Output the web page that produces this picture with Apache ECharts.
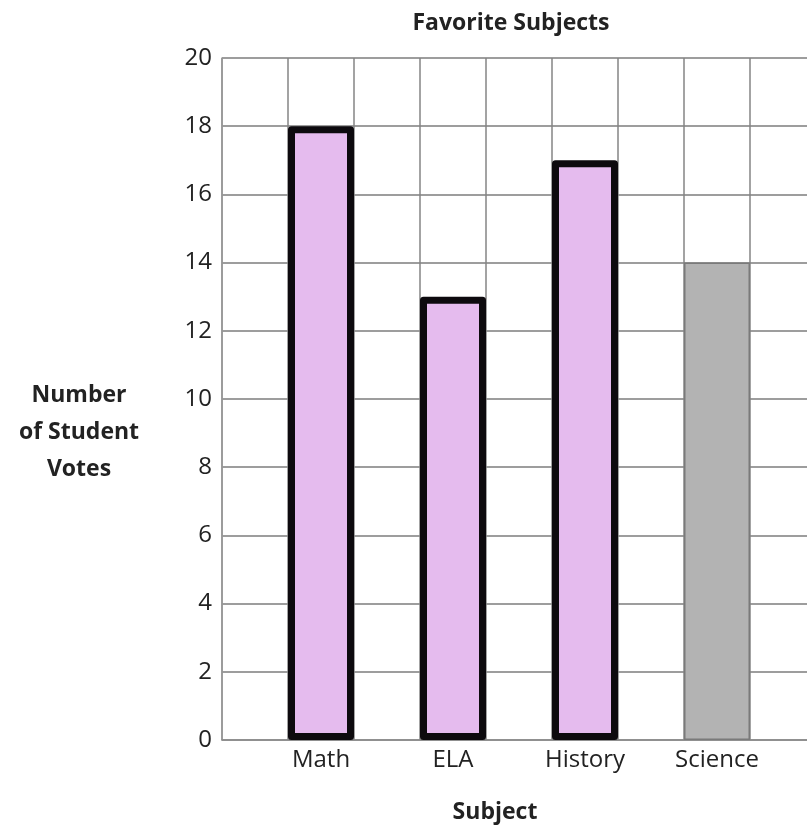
<!DOCTYPE html>
<html>
<head>
<meta charset="utf-8">
<script src="https://cdn.jsdelivr.net/npm/echarts@6/dist/echarts.min.js"></script>
<style>
html,body{margin:0;padding:0;background:#fff;overflow:hidden;}
#chart{width:807px;height:826px;}
</style>
</head>
<body>
<div id="chart"></div>
<script>
var titleText = 'Favorite Subjects';
var xAxisName = 'Subject';
var yAxisName = 'Number\nof Student\nVotes';
var categories = ['Math', 'ELA', 'History', 'Science'];
var votes = [18, 13, 17, 14];
var sketched = [true, true, true, false];
var yTicks = [0, 2, 4, 6, 8, 10, 12, 14, 16, 18, 20];

var FONT = 'Open Sans';
// 9 slots: blank, Math, blank, ELA, blank, History, blank, Science, blank
var slots = [];
var seriesData = [];
for (var i = 0; i < categories.length; i++) {
  slots.push(' ' + i);
  seriesData.push('-');
  slots.push(categories[i]);
  seriesData.push({
    value: votes[i],
    itemStyle: sketched[i]
      ? { color: '#e5bbee', borderColor: '#0d0a0e', borderWidth: 7, borderJoin: 'round' }
      : { color: '#b3b3b3', borderColor: '#7a7a7a', borderWidth: 1.5 }
  });
}
slots.push(' end');
seriesData.push('-');

var chart = echarts.init(document.getElementById('chart'), null, { renderer: 'canvas', width: 807, height: 826 });
chart.setOption({
  animation: false,
  backgroundColor: '#ffffff',
  title: [
    { text: titleText, left: 506, top: 7, textAlign: 'center',
      textStyle: { fontFamily: FONT, fontWeight: 'bold', fontSize: 23, color: '#222' } },
    { text: yAxisName, left: 74, top: 372, textAlign: 'center',
      textStyle: { fontFamily: FONT, fontWeight: 'bold', fontSize: 23, color: '#222', lineHeight: 37, align: 'center' } },
    { text: xAxisName, left: 490, top: 796, textAlign: 'center',
      textStyle: { fontFamily: FONT, fontWeight: 'bold', fontSize: 23, color: '#222' } }
  ],
  grid: { left: 222, width: 594, top: 58, bottom: 86, containLabel: false, outerBoundsMode: 'none' },
  xAxis: {
    type: 'category',
    data: slots,
    boundaryGap: true,
    axisLine: { show: true, lineStyle: { color: '#8c8c8c', width: 1.5 } },
    axisTick: { show: false },
    axisLabel: {
      interval: 0, fontFamily: FONT, fontSize: 24, color: '#222', margin: 8,
      formatter: function (v) { return categories.indexOf(v) >= 0 ? v : ''; }
    },
    splitLine: { show: true, lineStyle: { color: '#858585', width: 1.5 } }
  },
  yAxis: {
    type: 'value',
    min: yTicks[0],
    max: yTicks[yTicks.length - 1],
    interval: 2,
    axisLine: { show: true, lineStyle: { color: '#9a9a9a', width: 1.5 } },
    axisTick: { show: false },
    axisLabel: { fontFamily: FONT, fontSize: 24, color: '#222', margin: 10 },
    splitLine: { show: true, lineStyle: { color: '#7c7c7c', width: 1.5 } }
  },
  series: [{
    type: 'bar',
    data: seriesData,
    barWidth: '100%',
    barGap: '0%'
  }]
});
</script>
</body>
</html>
